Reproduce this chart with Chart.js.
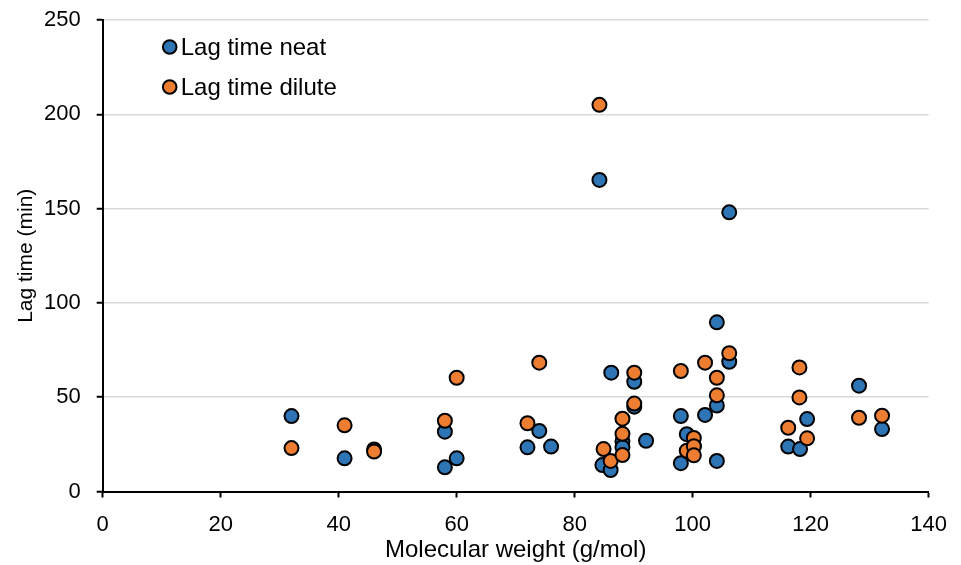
<!DOCTYPE html>
<html>
<head>
<meta charset="utf-8">
<script src="https://cdn.jsdelivr.net/npm/chart.js@4/dist/chart.umd.min.js"></script>
<style>
  html, body { margin: 0; padding: 0; background: #ffffff; }
  #wrap { width: 961px; height: 565px; }
</style>
</head>
<body>
<div id="wrap"><canvas id="chart" width="961" height="565"></canvas></div>
<script>
// Lag time versus molecular weight, neat and dilute samples
const seriesNames = ['Lag time neat', 'Lag time dilute'];

const mwNeat  = [32, 41, 46, 58, 58, 60, 72, 74, 76, 84.2, 84.7, 86.2, 86.1, 88.1, 88.1, 90.1, 90.1, 92.1, 98, 98, 99, 100.2, 102.1, 104.1, 104.1, 104.1, 106.2, 106.2, 116.2, 118.2, 119.4, 128.2, 132.1];
const lagNeat = [40, 17.6, 22.3, 31.7, 12.8, 17.6, 23.4, 32.1, 23.8, 165.2, 14, 63, 11.4, 26.6, 23.5, 58.2, 45, 26.9, 40, 15, 30.4, 24, 40.6, 89.7, 45.6, 16.2, 148, 68.8, 23.8, 22.5, 38.4, 56.1, 33.1];

const mwDilute  = [32, 41, 46, 58, 60, 72, 74, 84.2, 84.9, 86.1, 88.1, 88.1, 88.1, 90.1, 90.1, 98, 99, 100.2, 100.2, 100.2, 102.1, 104.1, 104.1, 106.2, 116.2, 118.1, 118.1, 119.4, 128.2, 132.1];
const lagDilute = [23, 35.1, 21.2, 37.5, 60.3, 36.2, 68.3, 205, 22.5, 16.2, 38.6, 30.6, 19.3, 63, 46.6, 63.9, 21.6, 28.4, 24, 19.2, 68.3, 60.3, 51, 73.3, 33.8, 65.8, 49.9, 28.2, 39.1, 40.2];

const xTicks = [0, 20, 40, 60, 80, 100, 120, 140];
const yTicks = [0, 50, 100, 150, 200, 250];

const colNeat = '#2e75b6';
const colDilute = '#ed7d31';
const FONT = "'Liberation Sans', Arial, Helvetica, sans-serif";

const toPoints = (xs, ys) => xs.map((x, i) => ({ x: x, y: ys[i] }));

// Legend drawn inside the plot, top-left
const innerLegend = {
  id: 'innerLegend',
  afterDraw(chart) {
    const ctx = chart.ctx;
    const area = chart.chartArea;
    const x0 = area.left + 67;
    const y0 = area.top + 27;
    const gap = 40;
    ctx.save();
    ctx.font = '24px ' + FONT;
    ctx.textBaseline = 'middle';
    ctx.textAlign = 'left';
    chart.data.datasets.forEach((ds, i) => {
      const cy = y0 + i * gap;
      ctx.beginPath();
      ctx.arc(x0, cy, 6.8, 0, Math.PI * 2);
      ctx.fillStyle = ds.backgroundColor;
      ctx.fill();
      ctx.lineWidth = 2;
      ctx.strokeStyle = '#000000';
      ctx.stroke();
      ctx.fillStyle = '#000000';
      ctx.fillText(ds.label, x0 + 11, cy + 1);
    });
    ctx.restore();
  }
};

new Chart(document.getElementById('chart'), {
  type: 'scatter',
  data: {
    datasets: [
      {
        label: seriesNames[0],
        data: toPoints(mwNeat, lagNeat),
        backgroundColor: colNeat,
        borderColor: '#000000',
        borderWidth: 2,
        pointRadius: 7,
        order: 1
      },
      {
        label: seriesNames[1],
        data: toPoints(mwDilute, lagDilute),
        backgroundColor: colDilute,
        borderColor: '#000000',
        borderWidth: 2,
        pointRadius: 7,
        order: 0
      }
    ]
  },
  options: {
    responsive: false,
    animation: false,
    devicePixelRatio: 1,
    layout: { padding: { top: 20, right: 32, bottom: 0, left: 0 } },
    plugins: {
      legend: { display: false },
      tooltip: { enabled: false }
    },
    scales: {
      x: {
        type: 'linear',
        min: xTicks[0],
        max: xTicks[xTicks.length - 1],
        afterBuildTicks(scale) { scale.ticks = xTicks.map(v => ({ value: v })); },
        afterFit(scale) { scale.height = 73.5; },
        border: { color: '#000000', width: 2 },
        grid: {
          drawOnChartArea: false,
          drawTicks: true,
          tickLength: 6,
          tickColor: '#000000',
          tickWidth: 2
        },
        ticks: {
          color: '#000000',
          font: { family: FONT, size: 22 },
          padding: 14,
          maxRotation: 0
        },
        title: {
          display: true,
          text: 'Molecular weight (g/mol)',
          color: '#000000',
          font: { family: FONT, size: 24 },
          padding: { top: 0, bottom: 0 }
        }
      },
      y: {
        type: 'linear',
        min: yTicks[0],
        max: yTicks[yTicks.length - 1],
        afterBuildTicks(scale) { scale.ticks = yTicks.map(v => ({ value: v })); },
        afterFit(scale) {
          scale.width = 102.7;
          scale.paddingTop = 0;
          scale.paddingBottom = 0;
        },
        border: { color: '#000000', width: 2 },
        grid: {
          color: '#d9d9d9',
          lineWidth: 1.5,
          drawTicks: true,
          tickLength: 6,
          tickColor: '#000000',
          tickWidth: 2
        },
        ticks: {
          color: '#000000',
          font: { family: FONT, size: 22 },
          padding: 16
        },
        title: {
          display: true,
          text: 'Lag time (min)',
          color: '#000000',
          font: { family: FONT, size: 21 },
          padding: { top: 14, bottom: 0 }
        }
      }
    }
  },
  plugins: [innerLegend]
});
</script>
</body>
</html>
